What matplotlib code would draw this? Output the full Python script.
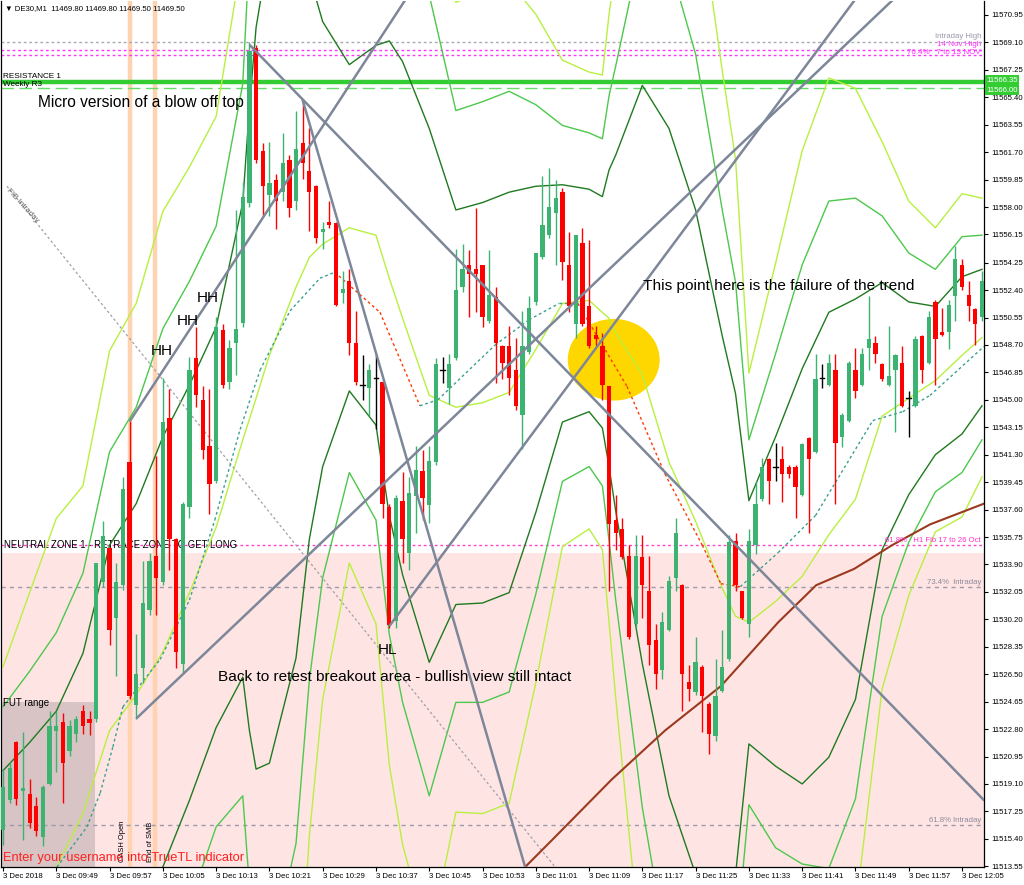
import matplotlib
matplotlib.use('Agg')
import matplotlib.pyplot as plt
from matplotlib.patches import Rectangle, Ellipse

plt.rcParams['font.family'] = ['Liberation Sans', 'DejaVu Sans']

# ---------------- data ----------------
opens = [11516.0, 11518.0, 11521.9, 11518.6, 11518.4, 11517.6, 11515.5, 11519.1, 11522.7, 11523.3,
         11521.3, 11522.5, 11524.0, 11523.5, 11523.5, 11532.7, 11535.0, 11530.3, 11532.5, 11540.8,
         11524.4, 11526.9, 11530.8, 11534.5, 11532.7, 11543.8, 11535.6, 11527.2, 11537.8, 11547.8,
         11545.0, 11541.9, 11539.5, 11549.7, 11546.2, 11548.8, 11550.2, 11558.3, 11568.7, 11561.8,
         11558.8, 11559.8, 11559.0, 11561.2, 11558.4, 11562.3, 11560.4, 11559.4, 11556.3, 11557.0,
         11556.9, 11552.2, 11553.0, 11548.8, 11546.0, 11545.8, 11546.5, 11546.2, 11537.8, 11530.1,
         11538.2, 11534.7, 11538.5, 11540.2, 11537.9, 11540.8, 11547.0, 11545.8, 11547.8, 11552.6,
         11554.1, 11553.8, 11554.1, 11550.3, 11551.9, 11548.6, 11548.6, 11547.0, 11544.0, 11548.2,
         11551.6, 11554.6, 11556.1, 11557.6, 11559.0, 11554.1, 11550.1, 11555.6, 11551.3, 11549.4,
         11548.6, 11545.9, 11536.9, 11536.3, 11534.5, 11529.9, 11534.4, 11532.1, 11528.8, 11526.8,
         11529.5, 11533.0, 11532.5, 11526.0, 11525.3, 11527.0, 11524.5, 11522.3, 11525.4, 11527.5,
         11535.5, 11532.1, 11529.9, 11535.2, 11538.3, 11541.0, 11540.5, 11541.0, 11540.5, 11540.5,
         11538.6, 11542.4, 11541.5, 11546.5, 11546.0, 11547.0, 11542.5, 11543.6, 11547.0, 11546.0,
         11548.5, 11548.8, 11547.4, 11546.0, 11547.0, 11547.5, 11545.1, 11544.6, 11549.3, 11547.5,
         11551.6, 11549.6, 11549.6, 11552.0, 11554.1, 11552.1, 11551.1, 11550.6]
highs = [11520.1, 11520.6, 11522.0, 11522.6, 11519.4, 11518.2, 11519.0, 11524.0, 11524.0, 11523.9,
         11523.4, 11523.7, 11524.4, 11524.0, 11534.0, 11536.8, 11535.1, 11534.0, 11539.8, 11543.6,
         11529.2, 11534.1, 11534.7, 11541.2, 11546.5, 11545.7, 11535.7, 11538.1, 11547.9, 11549.9,
         11545.9, 11545.7, 11550.6, 11550.1, 11549.0, 11557.8, 11559.7, 11569.1, 11568.9, 11562.3,
         11562.4, 11560.2, 11563.0, 11561.5, 11564.5, 11565.1, 11563.3, 11559.5, 11557.0, 11558.4,
         11557.0, 11553.7, 11553.8, 11551.0, 11548.0, 11547.4, 11548.1, 11546.3, 11538.0, 11538.6,
         11540.1, 11539.8, 11541.9, 11541.6, 11541.9, 11547.8, 11547.9, 11548.1, 11555.2, 11555.5,
         11555.1, 11557.9, 11554.1, 11555.1, 11552.6, 11548.7, 11550.0, 11549.2, 11551.0, 11552.0,
         11554.9, 11560.1, 11560.6, 11559.8, 11559.3, 11556.3, 11556.1, 11556.6, 11555.8, 11550.0,
         11549.5, 11545.9, 11538.6, 11537.0, 11535.2, 11535.9, 11535.9, 11534.5, 11529.9, 11530.7,
         11533.1, 11537.0, 11532.6, 11527.1, 11529.0, 11527.1, 11524.6, 11527.5, 11529.5, 11535.9,
         11536.0, 11532.1, 11536.3, 11539.5, 11541.1, 11541.1, 11542.1, 11541.9, 11540.6, 11540.6,
         11542.1, 11542.5, 11548.1, 11547.4, 11548.1, 11548.1, 11544.1, 11547.6, 11548.5, 11548.5,
         11552.0, 11549.3, 11547.5, 11550.0, 11548.1, 11548.6, 11545.6, 11549.3, 11549.4, 11551.0,
         11551.7, 11551.2, 11551.7, 11555.4, 11554.5, 11553.0, 11551.2, 11553.7]
lows = [11515.0, 11517.8, 11517.7, 11515.3, 11516.1, 11515.6, 11514.9, 11519.0, 11519.9, 11517.8,
        11521.0, 11521.9, 11522.5, 11522.4, 11523.3, 11532.4, 11528.5, 11526.4, 11532.2, 11524.8,
        11523.5, 11525.9, 11530.5, 11530.5, 11532.5, 11533.5, 11526.9, 11526.5, 11537.0, 11544.5,
        11541.0, 11537.3, 11539.4, 11545.8, 11545.7, 11546.7, 11549.9, 11558.0, 11561.0, 11557.4,
        11557.4, 11556.5, 11558.4, 11557.3, 11557.8, 11559.9, 11556.4, 11555.6, 11555.2, 11556.6,
        11551.3, 11551.5, 11548.0, 11546.0, 11545.0, 11543.9, 11543.0, 11537.0, 11529.6, 11529.6,
        11534.0, 11533.5, 11536.0, 11536.9, 11536.7, 11540.6, 11546.1, 11544.7, 11547.7, 11552.3,
        11550.6, 11550.9, 11549.9, 11550.2, 11546.1, 11546.4, 11545.3, 11544.3, 11541.7, 11548.1,
        11551.4, 11554.5, 11555.9, 11554.1, 11553.1, 11550.9, 11549.2, 11550.0, 11548.5, 11548.6,
        11545.0, 11532.1, 11534.9, 11534.3, 11528.9, 11529.7, 11530.3, 11527.1, 11525.5, 11526.2,
        11529.4, 11532.1, 11524.0, 11524.7, 11525.1, 11522.6, 11521.1, 11522.0, 11525.3, 11527.4,
        11532.1, 11530.2, 11529.0, 11534.6, 11538.2, 11538.0, 11539.5, 11538.1, 11539.7, 11537.0,
        11538.5, 11536.0, 11541.4, 11545.8, 11545.9, 11538.0, 11541.8, 11543.5, 11545.1, 11545.9,
        11547.0, 11547.5, 11546.3, 11545.9, 11542.8, 11544.5, 11542.5, 11544.5, 11546.1, 11547.4,
        11546.0, 11549.3, 11548.4, 11550.3, 11552.4, 11550.3, 11548.7, 11550.3]
closes = [11518.9, 11520.2, 11518.1, 11518.8, 11516.5, 11515.9, 11518.9, 11523.0, 11523.0, 11520.5,
          11523.0, 11523.5, 11523.0, 11523.2, 11534.0, 11535.8, 11529.5, 11532.7, 11539.0, 11525.0,
          11526.5, 11531.3, 11534.1, 11533.0, 11543.5, 11535.6, 11528.0, 11538.0, 11547.0, 11545.3,
          11541.6, 11539.3, 11549.9, 11546.0, 11548.5, 11549.8, 11558.7, 11568.5, 11561.2, 11559.4,
          11559.6, 11558.4, 11561.0, 11557.9, 11561.9, 11561.0, 11559.0, 11555.9, 11556.5, 11556.8,
          11551.4, 11552.5, 11548.8, 11546.2, 11546.0, 11547.0, 11546.5, 11538.0, 11529.8, 11538.4,
          11535.6, 11538.7, 11540.3, 11538.4, 11540.9, 11547.4, 11547.0, 11547.4, 11552.4, 11553.8,
          11553.5, 11553.5, 11550.6, 11552.1, 11548.8, 11547.5, 11546.5, 11544.6, 11548.6, 11551.2,
          11554.9, 11556.8, 11558.0, 11558.6, 11554.3, 11551.3, 11556.1, 11550.1, 11548.6, 11549.1,
          11546.0, 11536.6, 11536.0, 11534.4, 11529.0, 11534.5, 11532.5, 11528.5, 11526.5, 11530.0,
          11532.8, 11536.0, 11526.5, 11525.5, 11527.3, 11525.0, 11522.5, 11525.0, 11527.0, 11535.4,
          11532.5, 11530.3, 11535.5, 11538.0, 11540.5, 11539.5, 11540.5, 11540.0, 11540.0, 11539.1,
          11542.0, 11541.0, 11546.4, 11546.5, 11547.5, 11542.1, 11544.0, 11547.5, 11545.6, 11548.1,
          11549.1, 11548.1, 11546.4, 11546.6, 11548.0, 11544.6, 11545.1, 11549.1, 11547.0, 11550.6,
          11549.1, 11549.4, 11551.4, 11554.5, 11552.6, 11551.3, 11550.1, 11553.0]

tick_idx = [0, 8, 16, 24, 32, 40, 48, 56, 64, 72, 80, 88, 96, 104, 112, 120, 128, 136, 144]
tick_labels = ["3 Dec 2018", "3 Dec 09:49", "3 Dec 09:57", "3 Dec 10:05", "3 Dec 10:13",
               "3 Dec 10:21", "3 Dec 10:29", "3 Dec 10:37", "3 Dec 10:45", "3 Dec 10:53",
               "3 Dec 11:01", "3 Dec 11:09", "3 Dec 11:17", "3 Dec 11:25", "3 Dec 11:33",
               "3 Dec 11:41", "3 Dec 11:49", "3 Dec 11:57", "3 Dec 12:05"]
price_ticks = [11513.55, 11515.40, 11517.25, 11519.10, 11520.95, 11522.80, 11524.65, 11526.50,
               11528.35, 11530.20, 11532.05, 11533.90, 11535.75, 11537.60, 11539.45, 11541.30,
               11543.15, 11545.00, 11546.85, 11548.70, 11550.55, 11552.40, 11554.25, 11556.15,
               11558.00, 11559.85, 11561.70, 11563.55, 11565.40, 11567.25, 11569.10, 11570.95]

# indicator lines (sampled along candle index)
band_idx = [0, 4, 8, 12, 16, 20, 24, 28, 32, 36, 37, 38, 40, 44, 46, 48, 52, 56, 58, 60, 64, 68, 72,
            76, 80, 84, 88, 90, 91, 92, 96, 100, 104, 108, 110, 112, 116, 120, 124, 128, 132, 136,
            140, 144, 147]
sma20 = [11511.5, 11512.3, 11513.5, 11517.1, 11522.7, 11525.1, 11528.0, 11532.0, 11536.4, 11542.3,
         11543.7, 11545.1, 11548.0, 11552.6, 11554.6, 11555.5, 11556.6, 11556.1, 11553.2, 11550.5,
         11545.3, 11544.5, 11544.8, 11545.5, 11548.4, 11551.5, 11551.7, 11550.9, 11550.5, 11549.5,
         11546.7, 11540.8, 11536.8, 11532.3, 11530.4, 11530.0, 11531.4, 11533.1, 11535.9, 11538.3,
         11543.9, 11545.1, 11546.3, 11548.0, 11549.2]
dark_up = [11520.0, 11521.9, 11524.0, 11527.9, 11535.2, 11538.0, 11542.5, 11546.0, 11549.9, 11558.3,
           11564.7, 11570.1, 11575.5, 11577.6, 11573.6, 11570.5, 11567.6, 11568.9, 11569.2, 11567.8,
           11563.3, 11557.8, 11558.3, 11559.0, 11559.4, 11559.5, 11559.2, 11558.7, 11560.5, 11561.5,
           11566.2, 11563.3, 11557.8, 11549.3, 11545.4, 11538.2, 11542.5, 11547.1, 11550.9, 11551.8,
           11552.9, 11551.6, 11551.3, 11553.3, 11553.8]
dark_dn = [11503.0, 11502.7, 11503.0, 11506.3, 11510.2, 11512.2, 11513.5, 11518.0, 11522.9, 11526.3,
           11522.7, 11520.1, 11520.5, 11527.6, 11535.6, 11540.5, 11545.6, 11543.3, 11537.2, 11533.2,
           11527.3, 11531.2, 11531.3, 11532.0, 11537.4, 11543.5, 11544.2, 11543.1, 11540.5, 11537.5,
           11527.2, 11518.3, 11513.0, 11512.5, 11513.0, 11521.8, 11520.3, 11519.1, 11520.9, 11524.8,
           11534.9, 11538.6, 11541.3, 11542.7, 11544.6]
mid_up = [11524.3, 11526.7, 11529.3, 11533.3, 11541.5, 11544.5, 11549.8, 11553.0, 11556.7, 11566.3,
          11575.2, 11582.6, 11589.3, 11590.1, 11583.1, 11578.0, 11573.1, 11575.3, 11577.2, 11576.5,
          11572.3, 11564.5, 11565.1, 11565.8, 11564.9, 11563.5, 11563.0, 11562.6, 11565.5, 11567.5,
          11575.9, 11574.6, 11568.3, 11557.8, 11552.9, 11542.3, 11548.1, 11554.1, 11558.4, 11558.6,
          11557.4, 11554.9, 11553.8, 11556.0, 11556.1]
mid_dn = [11498.8, 11497.9, 11497.8, 11500.9, 11504.0, 11505.8, 11506.3, 11511.0, 11516.2, 11518.3,
          11512.2, 11507.6, 11506.8, 11515.1, 11526.1, 11533.0, 11540.1, 11536.9, 11529.2, 11524.6,
          11518.3, 11524.6, 11524.6, 11525.3, 11531.9, 11539.5, 11540.5, 11539.2, 11535.5, 11531.5,
          11517.5, 11507.1, 11505.3, 11506.8, 11507.9, 11517.7, 11514.8, 11513.7, 11513.4, 11518.1,
          11530.4, 11535.4, 11538.8, 11540.1, 11542.3]
light_up = [11527.0, 11532.0, 11537.0, 11539.2, 11548.3, 11551.5, 11557.7, 11560.7, 11564.1, 11575.1,
            11586.8, 11596.4, 11604.4, 11603.9, 11593.6, 11586.3, 11579.2, 11582.3, 11586.0, 11586.0,
            11582.2, 11571.8, 11572.5, 11573.2, 11571.0, 11567.9, 11567.1, 11566.9, 11571.0, 11574.1,
            11586.7, 11586.9, 11579.9, 11567.2, 11561.2, 11546.8, 11554.2, 11561.8, 11566.7, 11566.0,
            11562.4, 11558.4, 11556.6, 11558.9, 11558.6]
light_dn = [11494.1, 11492.6, 11492.0, 11495.0, 11497.1, 11498.7, 11498.3, 11503.3, 11508.7, 11509.5,
            11500.7, 11493.8, 11491.6, 11501.4, 11515.6, 11524.8, 11534.0, 11529.9, 11520.4, 11515.0,
            11508.4, 11517.2, 11517.1, 11517.8, 11525.9, 11535.1, 11536.3, 11534.9, 11530.0, 11524.9,
            11506.7, 11494.7, 11493.8, 11497.5, 11499.7, 11513.2, 11508.6, 11504.4, 11505.2, 11510.6,
            11525.5, 11531.8, 11536.1, 11537.1, 11539.8]

ma_idx = [6.6, 9.6, 12.6, 14.6, 16.5, 18, 23.6, 28, 31.8, 35.6, 38.6, 43.1, 47.6, 49.8, 56.6, 58.6,
          62.6, 65.3, 73.9, 79, 83.5, 86.3, 89.6, 93.7, 99.4, 105, 107.8, 110.7, 116.4, 122, 130.6,
          135.1, 139.2, 147.3]
ma_val = [11512.6, 11514.4, 11516.2, 11518.5, 11521.6, 11524.3, 11527.5, 11531.5, 11536.9, 11543.0,
          11547.0, 11551.0, 11553.2, 11553.6, 11550.9, 11548.8, 11544.6, 11545.0, 11548.7, 11550.4,
          11551.5, 11551.5, 11549.0, 11545.9, 11540.0, 11535.2, 11532.6, 11532.4, 11534.7, 11537.2,
          11543.6, 11544.2, 11545.3, 11548.6]

slow_idx = [78.4, 82.4, 91.4, 99.4, 107.8, 116.4, 122.1, 127.8, 133.5, 139.2, 147.3]
slow_val = [11513.5, 11515.3, 11519.4, 11522.7, 11525.7, 11530.0, 11532.5, 11533.6, 11535.2, 11536.6, 11538.0]

# trend lines: (start idx, start price, end idx, end price)
trend_lines = [
    (20.1, 11523.55, 133.6, 11571.96),
    (58.1, 11529.8, 127.9, 11571.96),
    (19.1, 11543.6, 60.4, 11571.96),
    (37.1, 11568.9, 147.3, 11518.0),
    (45.0, 11565.2, 78.4, 11513.5),
]
fib_line = (0.6, 11559.4, 82.9, 11513.5)

levels = {
    'intraday_high': 11569.10,
    'nov14_high': 11568.59,
    'fib764': 11568.28,
    'resistance1': 11566.45,
    'weekly_r3': 11566.05,
    'fib618_h1': 11535.21,
    'fib734_intraday': 11532.38,
    'fib618_intraday': 11516.33,
}
neutral_top = 11534.67
cash_open_idx = 19.1
end_smb_idx = 22.8
fut_range_end = 13.8

# ---------------- figure ----------------
W, H = 1024, 885
fig = plt.figure(figsize=(W / 100, H / 100), dpi=100)
fig.patch.set_facecolor('white')
ax = fig.add_axes([1 / W, 1 - 867 / H, 983 / W, 866 / H])
XMIN, XMAX = -0.3, 147.3
YMIN, YMAX = 11513.50, 11571.89
ax.set_xlim(XMIN, XMAX)
ax.set_ylim(YMIN, YMAX)

def fx(x):
    return x / W

def fy(y):
    return 1 - y / H

# zones
ax.add_patch(Rectangle((XMIN, YMIN), XMAX - XMIN, neutral_top - YMIN, facecolor='#FFE4E4',
                       edgecolor='none', zorder=0.5))
ax.add_patch(Rectangle((XMIN, YMIN), fut_range_end - XMIN, 11524.6 - YMIN, facecolor='#D8C4C4',
                       edgecolor='none', zorder=0.6))
for vx in (cash_open_idx, end_smb_idx):
    ax.axvline(vx, color='#FFD2B0', lw=3.2, zorder=0.7)

# horizontal levels
ax.axhline(levels['intraday_high'], color='#A9A9B5', lw=1, ls=(0, (2, 2)), zorder=1)
ax.axhline(levels['nov14_high'], color='#FF33FF', lw=1, ls=(0, (2, 2)), zorder=1)
ax.axhline(levels['fib764'], color='#FF33FF', lw=1, ls=(0, (2, 2)), zorder=1)
ax.axhline(levels['resistance1'], color='#33CC33', lw=3.2, zorder=1.2)
ax.axhline(levels['weekly_r3'], color='#66DD66', lw=1, ls=(0, (9, 4)), zorder=1.1)
ax.axhline(levels['fib618_h1'], color='#FF44CC', lw=1, ls=(0, (2, 2)), zorder=1)
ax.axhline(levels['fib734_intraday'], color='#9A9AAA', lw=1, ls=(0, (3, 3)), zorder=1)
ax.axhline(levels['fib618_intraday'], color='#9A9AAA', lw=1, ls=(0, (3, 3)), zorder=1)

# ellipse
ax.add_patch(Ellipse((91.7, 11547.7), 13.8, 5.5, facecolor='#FFD700', edgecolor='none', zorder=1.5))

# bands
ax.plot(band_idx, light_up, color='#B8F040', lw=1, zorder=2)
ax.plot(band_idx, light_dn, color='#B8F040', lw=1, zorder=2)
ax.plot(band_idx, mid_up, color='#4CC84C', lw=1, zorder=2)
ax.plot(band_idx, mid_dn, color='#4CC84C', lw=1, zorder=2)
ax.plot(band_idx, dark_up, color='#1F7A1F', lw=1, zorder=2)
ax.plot(band_idx, dark_dn, color='#1F7A1F', lw=1, zorder=2)
ax.plot(band_idx, sma20, color='#B8F040', lw=1, zorder=2)
for k in range(len(ma_idx) - 1):
    c = '#3AA090' if ma_val[k + 1] >= ma_val[k] else '#FF3A00'
    ax.plot(ma_idx[k:k + 2], ma_val[k:k + 2], color=c, lw=1, ls=(0, (2, 2)), zorder=2.1)
ax.plot(slow_idx, slow_val, color='#9A3A1E', lw=1.5, zorder=2.2)

# candles
for i in range(len(opens)):
    o, h, l, c = opens[i], highs[i], lows[i], closes[i]
    if abs(c - o) < 0.01:
        col = 'black'
    elif c > o:
        col = '#3CB371'
    else:
        col = '#FF0000'
    ax.plot([i, i], [l, h], color=col, lw=1, zorder=3, solid_capstyle='butt')
    lo_b, hi_b = min(o, c), max(o, c)
    if hi_b - lo_b < 0.08:
        if col == 'black':
            ax.plot([i - 0.35, i + 0.35], [o, o], color='black', lw=1, zorder=3.1)
            continue
        hi_b = lo_b + 0.08
    ax.add_patch(Rectangle((i - 0.32, lo_b), 0.64, hi_b - lo_b, facecolor=col, edgecolor='none',
                           zorder=3.1))

# trend lines
for (x1, y1, x2, y2) in trend_lines:
    ax.plot([x1, x2], [y1, y2], color='#7D8799', lw=1.8, zorder=4, solid_capstyle='round')
ax.plot([fib_line[0], fib_line[2]], [fib_line[1], fib_line[3]], color='#A0A0A8', lw=0.9,
        ls=(0, (2, 2)), zorder=2)

# axes styling
for s in ('left', 'bottom', 'right', 'top'):
    ax.spines[s].set_color('black')
    ax.spines[s].set_linewidth(0.9)
ax.spines['top'].set_visible(False)
ax.yaxis.tick_right()
ax.set_yticks(price_ticks)
ax.set_yticklabels(['%.2f' % v for v in price_ticks], fontsize=5.6)
ax.tick_params(axis='y', direction='out', length=3, width=0.8, pad=2)
ax.set_xticks(tick_idx)
ax.set_xticklabels(tick_labels, fontsize=5.6, ha='left')
ax.tick_params(axis='x', direction='out', length=3, width=0.8, pad=1)
for lab in ax.get_xticklabels():
    lab.set_horizontalalignment('left')

# green price boxes on axis
fig.text(fx(986), fy(80), '11566.35', fontsize=5.6, color='white', va='center', ha='left',
         bbox=dict(boxstyle='square,pad=0.15', facecolor='#33CC33', edgecolor='none'))
fig.text(fx(986), fy(90), '11566.00', fontsize=5.6, color='white', va='center', ha='left',
         bbox=dict(boxstyle='square,pad=0.15', facecolor='#33CC33', edgecolor='none'))

# texts
fig.text(fx(5), fy(9), '\u25BC DE30,M1  11469.80 11469.80 11469.50 11469.50', fontsize=5.6,
         va='center', ha='left')
fig.text(fx(3), fy(77), 'RESISTANCE 1', fontsize=5.9, va='center', ha='left', zorder=5)
fig.text(fx(3), fy(84), 'Weekly R3', fontsize=5.9, va='center', ha='left', zorder=5)
fig.text(fx(981), fy(36), 'Intraday High', fontsize=5.6, color='#9A9AAA', va='center', ha='right')
fig.text(fx(981), fy(45), '14 Nov High', fontsize=5.8, color='#FF33FF', va='center', ha='right')
fig.text(fx(981), fy(52), '76.4%   7 to 13 NOV', fontsize=5.8, color='#FF33FF', va='center', ha='right')
fig.text(fx(981), fy(540), '61.8%   H1 Fib 17 to 26 Oct', fontsize=5.6, color='#FF33CC',
         va='center', ha='right')
fig.text(fx(981), fy(582), '73.4%  Intraday', fontsize=5.6, color='#8A8A9A', va='center', ha='right')
fig.text(fx(981), fy(820), '61.8% Intraday', fontsize=5.6, color='#8A8A9A', va='center', ha='right')
ax.text(0.003, 11535.21, 'NEUTRAL ZONE 1 - RETRACE ZONE TO GET LONG', fontsize=6.9,
        transform=ax.get_yaxis_transform(), va='center', ha='left', zorder=1.3)
fig.text(fx(3), fy(703), 'FUT range', fontsize=7.0, va='center', ha='left')
fig.text(fx(6), fy(191), 'FIB Intraday', fontsize=5.8, color='#606060', va='baseline', ha='left',
         rotation=-47, rotation_mode='anchor')
fig.text(fx(38), fy(103), 'Micro version of a blow off top', fontsize=11.2, va='center', ha='left')
fig.text(fx(151), fy(351), 'HH', fontsize=11, va='center', ha='left')
fig.text(fx(177), fy(321), 'HH', fontsize=11, va='center', ha='left')
fig.text(fx(197), fy(298), 'HH', fontsize=11, va='center', ha='left')
fig.text(fx(378), fy(650), 'HL', fontsize=11, va='center', ha='left')
fig.text(fx(218), fy(677), 'Back to retest breakout area - bullish view still intact', fontsize=11.1,
         va='center', ha='left')
fig.text(fx(643), fy(286), 'This point here is the failure of the trend', fontsize=11.1,
         va='center', ha='left')
fig.text(fx(3), fy(858), 'Enter your username into TrueTL indicator', fontsize=9.3,
         color='#FF2020', va='center', ha='left', zorder=6)
fig.text(fx(123), fy(862), 'CASH Open', fontsize=5.4, rotation=90, va='bottom', ha='center')
fig.text(fx(150), fy(862), 'End of SMB', fontsize=5.4, rotation=90, va='bottom', ha='center')

fig.savefig('out.png', dpi=100, facecolor='white')
